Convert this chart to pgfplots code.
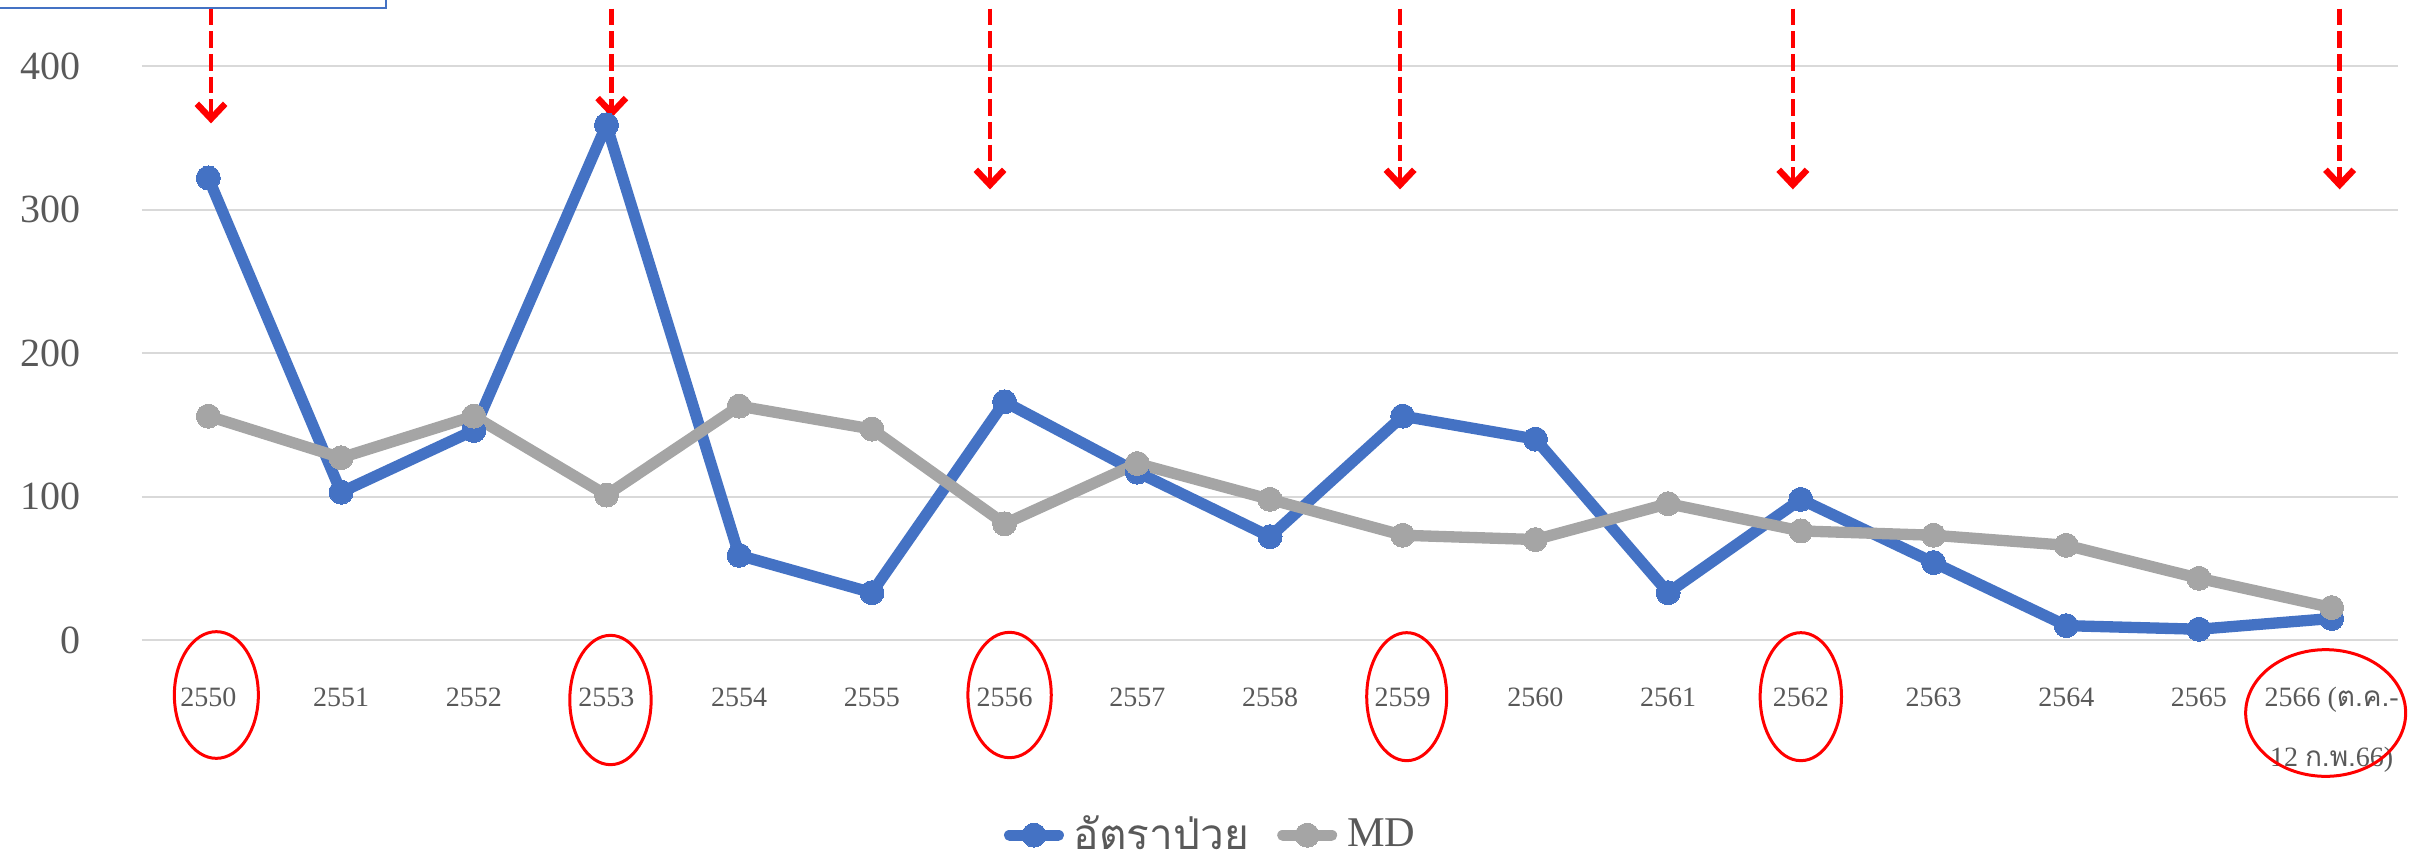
\documentclass[border=0pt]{standalone}
\usepackage{fontspec}
\setmainfont{Liberation Serif}
\newfontfamily\thaifont[Script=Thai]{Loma}
\usepackage{pgfplots}
\pgfplotsset{compat=1.18}
\usetikzlibrary{arrows.meta}
\definecolor{cblue}{HTML}{4472C4}
\definecolor{cgray}{HTML}{A5A5A5}
\definecolor{tgray}{HTML}{595959}
\definecolor{gridc}{HTML}{D9D9D9}
\begin{document}
\begin{tikzpicture}
\begin{axis}[
  scale only axis, width=676.8pt, height=172.2pt,
  xmin=-0.5, xmax=16.5, ymin=0, ymax=400,
  axis line style={draw=none},
  tick style={draw=none},
  ytick={0,100,200,300,400},
  xtick={0,...,16},
  xticklabels={2550,2551,2552,2553,2554,2555,2556,2557,2558,2559,2560,2561,2562,2563,2564,2565,{2566 ({\thaifont ต.ค.}-}},
  ymajorgrids, major grid style={draw=gridc, line width=0.6pt},
  clip=false,
  /pgf/number format/assume math mode=true,
  yticklabel style={font=\fontsize{12}{14}\selectfont, text=tgray, xshift=-15pt},
  xticklabel style={font=\fontsize{8.4}{10}\selectfont, text=tgray, anchor=base, yshift=-20pt},
  legend style={at={(0.474,-0.34)}, anchor=center, draw=none, legend columns=-1,
    font=\fontsize{12.7}{15}\selectfont, text=tgray, inner sep=0pt,
    nodes={inner sep=1pt},
    /tikz/every odd column/.append style={column sep=2pt},
    /tikz/every even column/.append style={column sep=7.5pt}},
  legend image code/.code={\draw[#1, mark repeat=2, mark phase=2] plot coordinates {(0pt,0pt) (7.3pt,0pt) (14.6pt,0pt)};},
]
\addplot[cblue, line width=3.4pt, line cap=round, line join=round, mark=*, mark size=3.6pt, mark options={draw=none, line width=0pt, fill=cblue}]
  coordinates {(0,322) (1,103) (2,146) (3,359) (4,59) (5,33) (6,166) (7,117) (8,72) (9,156) (10,140) (11,33) (12,98) (13,54) (14,10) (15,7.5) (16,15)};
\addlegendentry{{\thaifont อัตราป่วย}}
\addplot[cgray, line width=3.4pt, line cap=round, line join=round, mark=*, mark size=3.6pt, mark options={draw=none, line width=0pt, fill=cgray}]
  coordinates {(0,156) (1,127) (2,156) (3,101) (4,163) (5,147) (6,81) (7,123) (8,98) (9,73) (10,70) (11,95) (12,76) (13,73) (14,66) (15,43) (16,22.6)};
\addlegendentry{MD}
\coordinate (o) at (rel axis cs:0,0);
% second line of the last category label
\node[font=\fontsize{8.4}{10}\selectfont, text=tgray, anchor=base, yshift=-37.8pt] at (axis cs:16,0) {12 {\thaifont ก.พ.}66)};
% red ellipses
\draw[red, line width=0.9pt] (axis cs:0,0) ++(2.4pt,-16.5pt) ellipse [x radius=12.6pt, y radius=19pt];
\draw[red, line width=0.9pt] (axis cs:3,0) ++(1.2pt,-18pt) ellipse [x radius=12.2pt, y radius=19.4pt];
\draw[red, line width=0.9pt] (axis cs:6,0) ++(1.5pt,-16.5pt) ellipse [x radius=12.5pt, y radius=18.8pt];
\draw[red, line width=0.9pt] (axis cs:9,0) ++(1.2pt,-17pt) ellipse [x radius=12pt, y radius=19.2pt];
\draw[red, line width=0.9pt] (axis cs:12,0) ++(0pt,-17pt) ellipse [x radius=12.2pt, y radius=19.2pt];
\draw[red, line width=0.9pt] (axis cs:16,0) ++(-1.8pt,-21.9pt) ellipse [x radius=24pt, y radius=19pt];
% red dashed arrows
\tikzset{redarr/.style={red, line width=1.4pt, dash pattern=on 5pt off 1.8pt, -{Straight Barb[length=4.5pt, width=8.5pt, line width=1.9pt]}}}
\draw[redarr] (axis cs:0.02,440) -- (axis cs:0.02,360);
\draw[redarr] (axis cs:3.04,440) -- (axis cs:3.04,364);
\draw[redarr] (axis cs:5.89,440) -- (axis cs:5.89,314);
\draw[redarr] (axis cs:8.98,440) -- (axis cs:8.98,314);
\draw[redarr] (axis cs:11.94,440) -- (axis cs:11.94,314);
\draw[redarr] (axis cs:16.06,440) -- (axis cs:16.06,314);
\end{axis}
% cut-off text box at top left
\draw[cblue, line width=0.6pt, fill=white] (o) ++(-60pt,189.6pt) rectangle ++(133.2pt,30pt);
\pgfresetboundingbox
\path[use as bounding box] (o) ++(-42.6pt,-67.8pt) rectangle ++(724.5pt,259.8pt);
\end{tikzpicture}
\end{document}
